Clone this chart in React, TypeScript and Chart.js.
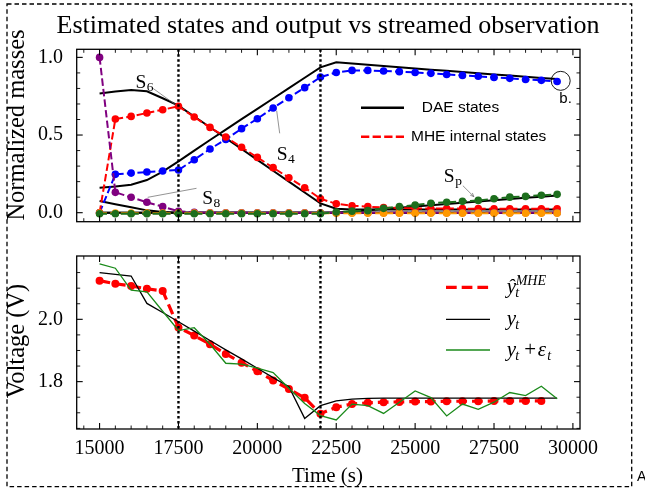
import React, { useEffect, useRef } from "react";
import { Chart, registerables } from "chart.js";

Chart.register(...registerables);

// ---------- data ----------
const timeS = [15000, 15500, 16000, 16500, 17000, 17500, 18000, 18500, 19000, 19500, 20000, 20500, 21000, 21500, 22000, 22500, 23000, 23500, 24000, 24500, 25000, 25500, 26000, 26500, 27000, 27500, 28000, 28500, 29000, 29500];

// MHE internal states (dashed with markers)
const mheS4 = [0, 0.247, 0.255, 0.262, 0.268, 0.275, 0.341, 0.41, 0.472, 0.541, 0.605, 0.674, 0.74, 0.805, 0.873, 0.903, 0.916, 0.916, 0.912, 0.908, 0.903, 0.897, 0.89, 0.884, 0.878, 0.871, 0.865, 0.858, 0.852, 0.845];
const mheS6 = [0, 0.603, 0.62, 0.642, 0.663, 0.685, 0.616, 0.549, 0.487, 0.421, 0.356, 0.29, 0.225, 0.161, 0.09, 0.057, 0.045, 0.039, 0.033, 0.03, 0.028, 0.027, 0.027, 0.026, 0.026, 0.025, 0.025, 0.025, 0.025, 0.025];
const mheS8 = [1.0, 0.131, 0.099, 0.067, 0.039, 0.009, 0.002, 0, 0, 0, 0, 0, 0, 0, 0, 0, 0, 0, 0, 0, 0, 0, 0, 0, 0, 0, 0, 0, 0, 0];
const mheSo = [-0.003, -0.003, -0.003, -0.003, -0.003, -0.003, -0.003, -0.003, -0.003, -0.003, -0.003, -0.003, -0.003, -0.003, -0.003, -0.003, -0.003, -0.003, -0.003, -0.003, -0.003, -0.003, -0.003, -0.003, -0.003, -0.003, -0.003, -0.003, -0.003, -0.003];
const mheSp = [-0.007, -0.007, -0.007, -0.007, -0.007, -0.007, -0.007, -0.007, -0.007, -0.007, -0.007, -0.007, -0.007, -0.007, -0.007, 0.004, 0.01, 0.013, 0.028, 0.039, 0.049, 0.06, 0.067, 0.073, 0.079, 0.09, 0.1, 0.105, 0.112, 0.118];

// DAE states (solid black)
const daeS4 = [0.161, 0.168, 0.18, 0.21, 0.265, 0.33, 0.4, 0.468, 0.535, 0.602, 0.668, 0.735, 0.802, 0.869, 0.936, 0.968, 0.96, 0.953, 0.945, 0.937, 0.929, 0.921, 0.914, 0.906, 0.898, 0.89, 0.883, 0.875, 0.867, 0.86];
const daeS6 = [0.768, 0.78, 0.79, 0.782, 0.737, 0.689, 0.619, 0.55, 0.48, 0.41, 0.34, 0.27, 0.2, 0.13, 0.06, 0.025, 0.02, 0.02, 0.02, 0.02, 0.02, 0.02, 0.02, 0.02, 0.02, 0.02, 0.02, 0.02, 0.02, 0.02];
const daeS8 = [0.075, 0.055, 0.035, 0.015, 0.004, 0, 0, 0, 0, 0, 0, 0, 0, 0, 0, 0, 0, 0, 0, 0, 0, 0, 0, 0, 0, 0, 0, 0, 0, 0];
const daeSp = [0, 0, 0, 0, 0, 0, 0, 0, 0, 0, 0, 0, 0, 0, 0, 0, 0.008, 0.016, 0.024, 0.032, 0.04, 0.048, 0.056, 0.064, 0.072, 0.08, 0.088, 0.096, 0.103, 0.11];
const daeSo = [0, 0, 0, 0, 0, 0, 0, 0, 0, 0, 0, 0, 0, 0, 0, 0, 0, 0, 0, 0, 0, 0, 0, 0, 0, 0, 0, 0, 0, 0];

// Output voltage
const timeHat = [15000, 15500, 16000, 16500, 17000, 17500, 18000, 18500, 19000, 19500, 20000, 20500, 21000, 21500, 22000, 22500, 23000, 23500, 24000, 24500, 25000, 25500, 26000, 26500, 27000, 27500, 28000, 28500, 29000];
const yHatMHE = [2.124, 2.114, 2.107, 2.098, 2.091, 1.974, 1.948, 1.92, 1.889, 1.861, 1.833, 1.804, 1.776, 1.748, 1.697, 1.718, 1.728, 1.732, 1.734, 1.735, 1.736, 1.736, 1.737, 1.737, 1.737, 1.738, 1.738, 1.738, 1.738];
const yTrue = [2.15, 2.144, 2.139, 2.051, 2.022, 1.992, 1.962, 1.932, 1.902, 1.873, 1.843, 1.813, 1.784, 1.682, 1.723, 1.738, 1.744, 1.746, 1.747, 1.747, 1.747, 1.747, 1.747, 1.747, 1.747, 1.747, 1.747, 1.747, 1.747, 1.747];
const yNoisy = [2.178, 2.164, 2.094, 2.088, 2.026, 1.964, 1.973, 1.92, 1.859, 1.856, 1.843, 1.829, 1.779, 1.73, 1.691, 1.677, 1.728, 1.723, 1.698, 1.734, 1.77, 1.749, 1.69, 1.728, 1.711, 1.734, 1.765, 1.755, 1.785, 1.745];

// Axes / ticks
const xRange = [14275, 30225];
const topYRange = [-0.058, 1.052];
const botYRange = [1.648, 2.2032];
const dividerTimes = [17500, 22000];
const xMajorTicks = [15000, 17500, 20000, 22500, 25000, 27500, 30000];
const xMinorTicks = [14500, 15500, 16000, 16500, 17000, 18000, 18500, 19000, 19500, 20500, 21000, 21500, 22000, 23000, 23500, 24000, 24500, 25500, 26000, 26500, 27000, 28000, 28500, 29000, 29500];
const topYMajorTicks = [0, 0.5, 1.0];
const topYMinorTicks = [0.1, 0.2, 0.3, 0.4, 0.6, 0.7, 0.8, 0.9];
const botYMajorTicks = [1.8, 2.0];
const botYMinorTicks = [1.65, 1.7, 1.75, 1.85, 1.9, 1.95, 2.05, 2.1, 2.15];

// Annotations (data coordinates)
const stateLabels = [
  { main: "S", sub: "6", at: [16137, 0.802], from: [16696, 0.8], to: [17405, 0.696], arrow: false },
  { main: "S", sub: "4", at: [20613, 0.339], from: [20708, 0.511], to: [20613, 0.656], arrow: false },
  { main: "S", sub: "8", at: [18253, 0.056], from: [18072, 0.157], to: [16525, 0.099], arrow: false },
  { main: "S", sub: "p", at: [25909, 0.2], from: [26512, 0.174], to: [26862, 0.103], arrow: true },
];
const endMark = { center: [29613, 0.849], label: "b.", labelAt: [29571, 0.706] };

const SERIF = '"Liberation Serif", "Times New Roman", serif';
const SANS = '"Liberation Sans", Arial, sans-serif';

const pts = (xs: number[], ys: number[]) => ys.map((v, i) => ({ x: xs[i], y: v }));

function fixScale(size: number, isY: boolean) {
  return (s: any) => {
    if (isY) s.width = size;
    else s.height = size;
    s.paddingTop = 0;
    s.paddingBottom = 0;
    s.paddingLeft = 0;
    s.paddingRight = 0;
  };
}

function drawFrame(chart: any, yMaj: number[], yMin: number[]) {
  const { ctx, chartArea: a, scales } = chart;
  const xs = scales.x, ys = scales.y;
  ctx.save();
  ctx.strokeStyle = "#000";
  ctx.lineWidth = 2.4;
  ctx.setLineDash([2.4, 2.6]);
  for (const t of dividerTimes) {
    const p = xs.getPixelForValue(t);
    ctx.beginPath();
    ctx.moveTo(p, a.top);
    ctx.lineTo(p, a.bottom);
    ctx.stroke();
  }
  ctx.setLineDash([]);
  const seg = (x1: number, y1: number, x2: number, y2: number) => {
    ctx.beginPath();
    ctx.moveTo(x1, y1);
    ctx.lineTo(x2, y2);
    ctx.stroke();
  };
  const xt = (vals: number[], len: number, lw: number) => {
    ctx.lineWidth = lw;
    for (const v of vals) {
      const p = xs.getPixelForValue(v);
      seg(p, a.bottom, p, a.bottom - len);
      seg(p, a.top, p, a.top + len);
    }
  };
  const yt = (vals: number[], len: number, lw: number) => {
    ctx.lineWidth = lw;
    for (const v of vals) {
      const p = ys.getPixelForValue(v);
      seg(a.left, p, a.left + len, p);
      seg(a.right, p, a.right - len, p);
    }
  };
  xt(xMajorTicks, 6, 1.1);
  xt(xMinorTicks, 3.5, 0.9);
  yt(yMaj, 6, 1.1);
  yt(yMin, 3.5, 0.9);
  ctx.lineWidth = 1.3;
  ctx.strokeRect(a.left, a.top, a.right - a.left, a.bottom - a.top);
  ctx.restore();
}

function topConfig(): any {
  const mhe = (data: number[], color: string, order: number) => ({
    data: pts(timeS, data),
    borderColor: color,
    backgroundColor: color,
    borderWidth: 2,
    borderDash: [7.4, 3.2],
    pointRadius: 3.8,
    pointBorderWidth: 0,
    pointBackgroundColor: color,
    tension: 0,
    order,
  });
  const dae = (data: number[]) => ({
    data: pts(timeS, data),
    borderColor: "#000",
    borderWidth: 2,
    pointRadius: 0,
    tension: 0,
    order: 20,
  });
  const framePlugin = {
    id: "frameTop",
    afterDatasetsDraw(chart: any) {
      drawFrame(chart, topYMajorTicks, topYMinorTicks);
    },
  };
  const annPlugin = {
    id: "annTop",
    afterDraw(chart: any) {
      const { ctx, chartArea: a, scales } = chart;
      const xs = scales.x, ys = scales.y;
      const X = (v: number) => xs.getPixelForValue(v);
      const Y = (v: number) => ys.getPixelForValue(v);
      ctx.save();
      for (const l of stateLabels) {
        ctx.strokeStyle = "#666";
        ctx.lineWidth = 0.7;
        const x1 = X(l.from[0]), y1 = Y(l.from[1]), x2 = X(l.to[0]), y2 = Y(l.to[1]);
        ctx.beginPath();
        ctx.moveTo(x1, y1);
        ctx.lineTo(x2, y2);
        ctx.stroke();
        if (l.arrow) {
          const ang = Math.atan2(y2 - y1, x2 - x1);
          ctx.beginPath();
          ctx.moveTo(x2, y2);
          ctx.lineTo(x2 - 4 * Math.cos(ang - 0.4), y2 - 4 * Math.sin(ang - 0.4));
          ctx.moveTo(x2, y2);
          ctx.lineTo(x2 - 4 * Math.cos(ang + 0.4), y2 - 4 * Math.sin(ang + 0.4));
          ctx.stroke();
        }
        ctx.fillStyle = "#000";
        ctx.textBaseline = "alphabetic";
        ctx.textAlign = "left";
        ctx.font = `19.5px ${SERIF}`;
        const tx = X(l.at[0]), ty = Y(l.at[1]);
        ctx.fillText(l.main, tx, ty);
        const w = ctx.measureText(l.main).width;
        ctx.font = `13.5px ${SERIF}`;
        ctx.fillText(l.sub, tx + w + 0.5, ty + 3);
      }
      ctx.strokeStyle = "#000";
      ctx.lineWidth = 0.9;
      ctx.beginPath();
      ctx.arc(X(endMark.center[0]), Y(endMark.center[1]), 9.5, 0, Math.PI * 2);
      ctx.stroke();
      ctx.fillStyle = "#000";
      ctx.font = `15px ${SANS}`;
      ctx.fillText(endMark.label, X(endMark.labelAt[0]), Y(endMark.labelAt[1]));
      // legend
      const lx1 = a.left + 284.3, lx2 = a.left + 327.3;
      const ly1 = a.top + 58.4, ly2 = a.top + 87.4;
      ctx.strokeStyle = "#000";
      ctx.lineWidth = 2.6;
      ctx.beginPath();
      ctx.moveTo(lx1, ly1);
      ctx.lineTo(lx2, ly1);
      ctx.stroke();
      ctx.strokeStyle = "#ff0000";
      ctx.lineWidth = 2.4;
      ctx.setLineDash([8.3, 3.3]);
      ctx.beginPath();
      ctx.moveTo(lx1, ly2);
      ctx.lineTo(lx2, ly2);
      ctx.stroke();
      ctx.setLineDash([]);
      ctx.font = `15.5px ${SANS}`;
      ctx.textBaseline = "middle";
      ctx.fillText("DAE states", a.left + 345, ly1);
      ctx.fillText("MHE internal states", a.left + 334.3, ly2);
      ctx.restore();
    },
  };
  return {
    type: "line",
    data: {
      datasets: [
        dae(daeS6),
        dae(daeS4),
        dae(daeS8),
        dae(daeSp),
        dae(daeSo),
        mhe(mheS4, "#0000ff", 7),
        mhe(mheS6, "#ff0000", 6),
        mhe(mheS8, "#800080", 5),
        mhe(mheSo, "#ff9900", 4),
        mhe(mheSp, "#1d6e1d", 3),
      ],
    },
    options: {
      animation: false,
      responsive: false,
      devicePixelRatio: 1,
      events: [],
      layout: { padding: { left: 0, right: 65, top: 49.3, bottom: 18.3 } },
      plugins: { legend: { display: false }, tooltip: { enabled: false }, title: { display: false } },
      scales: {
        x: {
          type: "linear",
          min: xRange[0],
          max: xRange[1],
          grid: { display: false, drawTicks: false },
          border: { display: false },
          ticks: { display: false },
          afterFit: fixScale(0, false),
        },
        y: {
          type: "linear",
          min: topYRange[0],
          max: topYRange[1],
          grid: { display: false, drawTicks: false },
          border: { display: false },
          ticks: {
            color: "#000",
            padding: 13.7,
            font: { family: SERIF, size: 20 },
            callback: (v: any) => Number(v).toFixed(1),
          },
          afterBuildTicks: (s: any) => { s.ticks = topYMajorTicks.map((v) => ({ value: v })); },
          afterFit: fixScale(76.7, true),
        },
      },
    },
    plugins: [framePlugin, annPlugin],
  };
}

function botConfig(): any {
  const framePlugin = {
    id: "frameBot",
    afterDatasetsDraw(chart: any) {
      drawFrame(chart, botYMajorTicks, botYMinorTicks);
    },
  };
  const legendPlugin = {
    id: "legBot",
    afterDraw(chart: any) {
      const { ctx, chartArea: a } = chart;
      ctx.save();
      const lx1 = a.left + 369.3, lx2 = a.left + 413.3, tx = a.left + 430;
      const rows = [a.top + 31.3, a.top + 63.3, a.top + 94];
      ctx.strokeStyle = "#ff0000";
      ctx.lineWidth = 3.2;
      ctx.setLineDash([10.7, 5]);
      ctx.beginPath();
      ctx.moveTo(lx1, rows[0]);
      ctx.lineTo(lx2, rows[0]);
      ctx.stroke();
      ctx.setLineDash([]);
      ctx.lineWidth = 1.3;
      ctx.strokeStyle = "#000";
      ctx.beginPath();
      ctx.moveTo(lx1, rows[1]);
      ctx.lineTo(lx2, rows[1]);
      ctx.stroke();
      ctx.strokeStyle = "#1a8a1a";
      ctx.beginPath();
      ctx.moveTo(lx1, rows[2]);
      ctx.lineTo(lx2, rows[2]);
      ctx.stroke();
      ctx.fillStyle = "#000";
      ctx.textAlign = "left";
      ctx.textBaseline = "alphabetic";
      const big = `italic 21px ${SERIF}`;
      const small = `italic 14px ${SERIF}`;
      const up = `21px ${SERIF}`;
      let b = rows[0] + 5.7;
      ctx.font = big; ctx.fillText("ŷ", tx, b);
      ctx.font = small; ctx.fillText("MHE", tx + 9, b - 8); ctx.fillText("t", tx + 8.5, b + 4);
      b = rows[1] + 5.7;
      ctx.font = big; ctx.fillText("y", tx, b);
      ctx.font = small; ctx.fillText("t", tx + 8.5, b + 4);
      b = rows[2] + 5.7;
      ctx.font = big; ctx.fillText("y", tx, b);
      ctx.font = small; ctx.fillText("t", tx + 8.5, b + 4);
      ctx.font = up; ctx.fillText("+", tx + 17.5, b);
      ctx.font = big; ctx.fillText("ε", tx + 31, b);
      ctx.font = small; ctx.fillText("t", tx + 40.5, b + 4);
      ctx.restore();
    },
  };
  return {
    type: "line",
    data: {
      datasets: [
        {
          data: pts(timeHat, yHatMHE),
          borderColor: "#ff0000",
          backgroundColor: "#ff0000",
          borderWidth: 3.2,
          borderDash: [10.7, 5],
          pointRadius: 4,
          pointBorderWidth: 0,
          pointBackgroundColor: "#ff0000",
          tension: 0,
          order: 3,
        },
        {
          data: pts(timeS, yTrue),
          borderColor: "#000",
          borderWidth: 1.3,
          pointRadius: 0,
          tension: 0,
          order: 2,
        },
        {
          data: pts(timeS, yNoisy),
          borderColor: "#1a8a1a",
          borderWidth: 1.3,
          pointRadius: 0,
          tension: 0,
          order: 1,
        },
      ],
    },
    options: {
      animation: false,
      responsive: false,
      devicePixelRatio: 1,
      events: [],
      layout: { padding: { left: 0, right: 65, top: 16, bottom: 0 } },
      plugins: { legend: { display: false }, tooltip: { enabled: false }, title: { display: false } },
      scales: {
        x: {
          type: "linear",
          min: xRange[0],
          max: xRange[1],
          grid: { display: false, drawTicks: false },
          border: { display: false },
          ticks: {
            color: "#000",
            padding: 8,
            maxRotation: 0,
            autoSkip: false,
            font: { family: SERIF, size: 20 },
            callback: (v: any) => String(v),
          },
          afterBuildTicks: (s: any) => { s.ticks = xMajorTicks.map((v) => ({ value: v })); },
          afterFit: fixScale(63, false),
        },
        y: {
          type: "linear",
          min: botYRange[0],
          max: botYRange[1],
          grid: { display: false, drawTicks: false },
          border: { display: false },
          ticks: {
            color: "#000",
            padding: 13.7,
            font: { family: SERIF, size: 20 },
            callback: (v: any) => Number(v).toFixed(1),
          },
          afterBuildTicks: (s: any) => { s.ticks = botYMajorTicks.map((v) => ({ value: v })); },
          afterFit: fixScale(76.7, true),
        },
      },
    },
    plugins: [framePlugin, legendPlugin],
  };
}

export default function App() {
  const topRef = useRef<HTMLCanvasElement>(null);
  const botRef = useRef<HTMLCanvasElement>(null);
  useEffect(() => {
    const c1 = new Chart(topRef.current as HTMLCanvasElement, topConfig());
    const c2 = new Chart(botRef.current as HTMLCanvasElement, botConfig());
    return () => {
      c1.destroy();
      c2.destroy();
    };
  }, []);
  const abs: React.CSSProperties = { position: "absolute", whiteSpace: "nowrap", color: "#000" };
  return (
    <div style={{ position: "fixed", left: 0, top: 0, width: 645, height: 492, background: "#fff", overflow: "hidden" }}>
      <canvas ref={topRef} width={645} height={240} style={{ position: "absolute", left: 0, top: 0, width: 645, height: 240 }} />
      <canvas ref={botRef} width={645} height={252} style={{ position: "absolute", left: 0, top: 240, width: 645, height: 252 }} />
      <div style={{ ...abs, left: 0, width: 656, top: 11.5, textAlign: "center", fontFamily: SERIF, fontSize: 26, lineHeight: "26px" }}>
        Estimated states and output vs streamed observation
      </div>
      <div style={{ ...abs, left: 15.7, top: 125, transform: "translate(-50%, -50%) rotate(-90deg)", fontFamily: SERIF, fontSize: 24.5, lineHeight: "24.5px" }}>
        Normalized masses
      </div>
      <div style={{ ...abs, left: 15.7, top: 341, transform: "translate(-50%, -50%) rotate(-90deg)", fontFamily: SERIF, fontSize: 24.5, lineHeight: "24.5px" }}>
        Voltage (V)
      </div>
      <div style={{ ...abs, left: 0, width: 655, top: 465.4, textAlign: "center", fontFamily: SERIF, fontSize: 21, lineHeight: "21px" }}>
        Time (s)
      </div>
      <div style={{ ...abs, left: 637, top: 469, fontFamily: SANS, fontSize: 14, lineHeight: "14px" }}>A</div>
      <svg width={645} height={492} style={{ position: "absolute", left: 0, top: 0, pointerEvents: "none" }}>
        <rect x={7} y={4} width={624.7} height={482.7} fill="none" stroke="#000" strokeWidth={1.3} strokeDasharray="4.5 3" />
      </svg>
    </div>
  );
}
